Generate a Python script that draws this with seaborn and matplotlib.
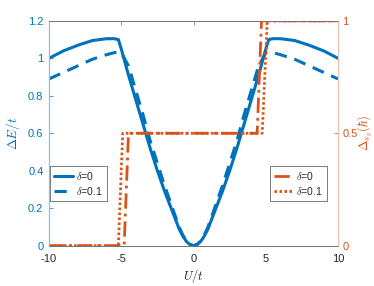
import numpy as np
import pandas as pd
import matplotlib
matplotlib.use("Agg")
import matplotlib.pyplot as plt
import seaborn as sns

### Daten
U_half = [0.0, 0.25, 0.5, 0.75, 1.0, 1.5, 2.0, 2.5, 3.0, 3.5, 4.0, 4.5, 5.0, 5.2, 5.5, 6.0, 7.0, 8.0, 9.0, 10.0]
dE_d0_half = [0.0, 0.006, 0.023, 0.052, 0.09, 0.19, 0.29, 0.40, 0.52, 0.65, 0.78, 0.91, 1.05, 1.10, 1.105, 1.105, 1.095, 1.07, 1.04, 1.0]
dE_d01_half = [0.0, 0.007, 0.026, 0.058, 0.10, 0.21, 0.32, 0.44, 0.56, 0.70, 0.83, 0.96, 1.03, 1.035, 1.03, 1.02, 0.995, 0.96, 0.925, 0.89]

# Spin-Differenz (Stufen)
U_s_d0 = [-10.0, -4.8, -4.5, 4.4, 4.7, 10.0]
s_d0 = [0.0, 0.0, 0.5, 0.5, 1.0, 1.0]
U_s_d01 = [-10.0, -5.2, -4.9, 4.75, 5.1, 10.0]
s_d01 = [0.0, 0.0, 0.5, 0.5, 1.0, 1.0]

x_ticks = [-10, -5, 0, 5, 10]
y_ticks_left = [0, 0.2, 0.4, 0.6, 0.8, 1.0, 1.2]
y_ticks_right = [0, 0.5, 1]

### Symmetrische Kurven zusammensetzen
U_full = [-u for u in U_half[:0:-1]] + U_half
dE_d0 = dE_d0_half[:0:-1] + dE_d0_half
dE_d01 = dE_d01_half[:0:-1] + dE_d01_half

### Farben
blue = (0.0, 0.447, 0.741)
orange = (0.850, 0.325, 0.098)

sns.set_style("white")
plt.rcParams['font.family'] = ['Liberation Sans', 'DejaVu Sans']
plt.rcParams['mathtext.fontset'] = 'cm'

fig = plt.figure(figsize=(3.74, 2.86), dpi=100)
ax = fig.add_axes([0.131, 0.141, 0.773, 0.786])
ax2 = ax.twinx()

sns.lineplot(x=U_full, y=dE_d0, ax=ax, color=blue, linewidth=2.2, label=r"$\delta$=0")
sns.lineplot(x=U_full, y=dE_d01, ax=ax, color=blue, linewidth=2.2, linestyle=(0, (4, 2.6)),
             label=r"$\delta$=0.1")

sns.lineplot(x=U_s_d0, y=s_d0, ax=ax2, color=orange, linewidth=2.0, linestyle=(0, (5.5, 1.8, 1, 1.8)),
             label=r"$\delta$=0")
sns.lineplot(x=U_s_d01, y=s_d01, ax=ax2, color=orange, linewidth=2.0, linestyle=(0, (0.9, 0.9)),
             label=r"$\delta$=0.1")

ax.set_xlim(-10, 10)
ax.set_ylim(0, 1.2)
ax2.set_ylim(0, 1)

ax.set_xticks(x_ticks)
ax.set_xticklabels([str(t) for t in x_ticks])
ax.set_yticks(y_ticks_left)
ax.set_yticklabels(["0", "0.2", "0.4", "0.6", "0.8", "1", "1.2"])
ax2.set_yticks(y_ticks_right)
ax2.set_yticklabels(["0", "0.5", "1"])

ax.tick_params(axis='x', direction='in', length=3, width=0.5, color='0.4', labelsize=8,
               top=True, pad=6, labelcolor='0.15')
ax.tick_params(axis='y', direction='in', length=3, width=0.5, colors=blue, labelsize=8, pad=4)
ax2.tick_params(axis='y', direction='in', length=3, width=0.5, colors=orange, labelsize=8, pad=3)

for a in (ax, ax2):
    a.spines['top'].set_color('0.45')
    a.spines['bottom'].set_color('0.45')
    a.spines['top'].set_linewidth(0.6)
    a.spines['bottom'].set_linewidth(0.6)
    a.spines['left'].set_color((0.55, 0.75, 0.9))
    a.spines['right'].set_color((0.96, 0.75, 0.68))
    a.spines['left'].set_linewidth(0.8)
    a.spines['right'].set_linewidth(0.8)

ax.set_xlabel(r"$U/t$", fontsize=9, color='0.15', labelpad=2)
ax.set_ylabel(r"$\Delta E/t$", fontsize=9.5, color=blue, labelpad=4)
ax2.set_ylabel(r"$\Delta_{s_y}(\hbar)$", fontsize=9, color=orange, labelpad=-1)

leg1 = ax.legend(loc='upper left', bbox_to_anchor=(0.003, 0.356), borderaxespad=0, fontsize=7.5,
                 fancybox=False, edgecolor='0.4', handlelength=1.8, handletextpad=0.3,
                 borderpad=0.4, labelspacing=0.3, framealpha=1)
leg1.get_frame().set_linewidth(0.6)
leg2 = ax2.legend(loc='upper right', bbox_to_anchor=(0.962, 0.356), borderaxespad=0, fontsize=7.5,
                  fancybox=False, edgecolor='0.4', handlelength=1.8, handletextpad=0.3,
                  borderpad=0.4, labelspacing=0.3, framealpha=1)
leg2.get_frame().set_linewidth(0.6)

fig.savefig("out.png", dpi=100)
